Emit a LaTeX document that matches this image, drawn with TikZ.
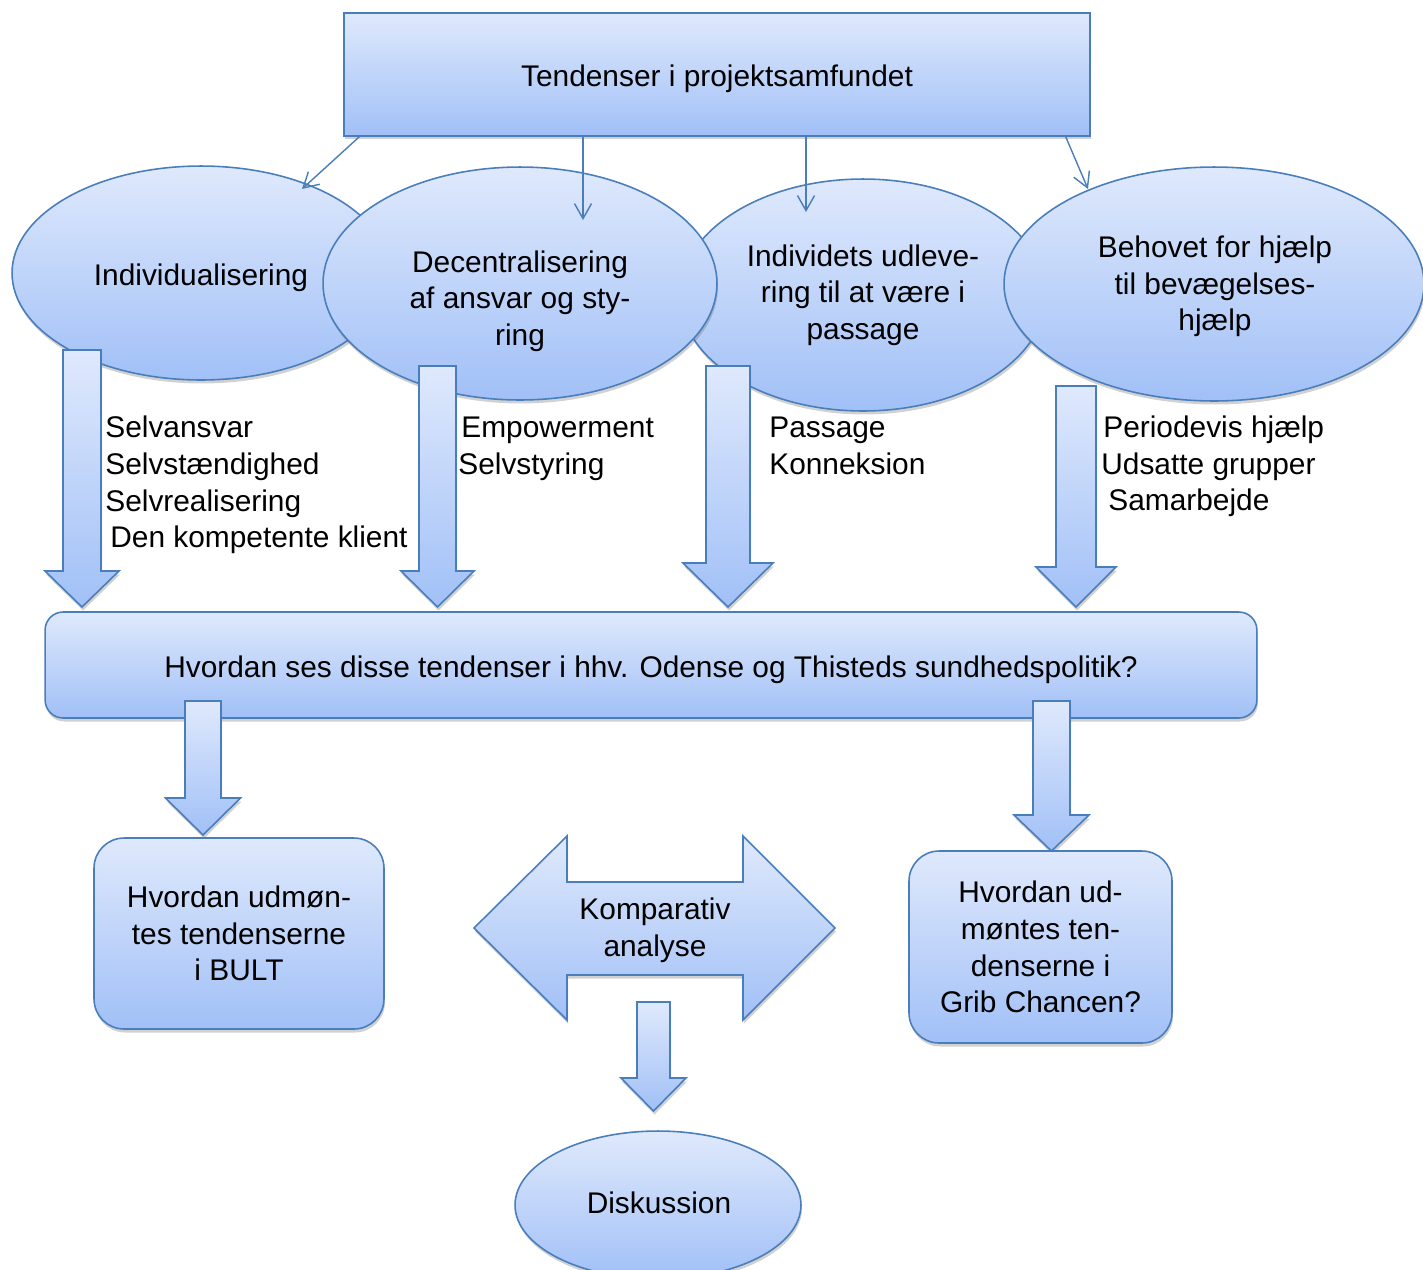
\documentclass[tikz,border=0pt]{standalone}
\usepackage{fontspec}
\setmainfont{Liberation Sans}
\usepackage{xcolor}
\usetikzlibrary{positioning, arrows.meta, shapes.geometric, shadows}
\definecolor{shadetop}{HTML}{DFE9FC}
\definecolor{shadebot}{HTML}{A1C0F7}
\definecolor{edge}{HTML}{4A7EBB}

% block arrow pointing down: centre x, top y, half shaft, half head, neck y, tip y
\newcommand{\bigdown}[6]{%
  \draw[blk] (#1-#3,#2) -- (#1+#3,#2) -- (#1+#3,#5) -- (#1+#4,#5)
    -- (#1,#6) -- (#1-#4,#5) -- (#1-#3,#5) -- cycle;}
% single text line set a little lower in its box
\newcommand{\dropline}[1]{\raisebox{-0.09cm}[\height][\depth]{#1}}

\begin{document}
\begin{tikzpicture}[
  x=0.02cm, y=-0.02cm,
  font=\fontsize{17pt}{20.9pt}\selectfont,
  fillgrad/.style={top color=shadetop, bottom color=shadebot, draw=edge, line width=0.9pt,
                   drop shadow={shadow xshift=0.02cm, shadow yshift=-0.07cm, fill=black!60, opacity=0.3}},
  headbox/.style={fillgrad, rectangle, align=center},
  oval/.style={fillgrad, ellipse, align=center, inner sep=0pt},
  rbox/.style={fillgrad, rectangle, rounded corners=0.6cm, align=center, inner sep=0pt},
  blk/.style={fillgrad, line join=miter},
  thinarr/.style={draw=edge, line width=0.8pt, -{Straight Barb[length=3mm, width=3.4mm]}},
  lbl/.style={anchor=west, align=left, inner sep=0pt},
]
\useasboundingbox (0,0) rectangle (1423,1269);

% ---------------- top box ----------------
\node[headbox, minimum width=14.92cm, minimum height=2.46cm] (trends) at (717,74.5)
  {\dropline{Tendenser i projektsamfundet}};

% ---------------- four tendencies ----------------
\node[oval, minimum width=7.56cm, minimum height=4.28cm] (indiv) at (201,273) {\dropline{Individualisering}};
\node[oval, minimum width=7.32cm, minimum height=4.64cm] (passage) at (863,295)
  {Individets udleve-\\ring til at være i\\passage};
\node[oval, minimum width=7.88cm, minimum height=4.66cm] (decent) at (520,283.5) {};
\node[align=center, inner sep=0pt] (decent-txt) at (520,301)
  {Decentralisering\\af ansvar og sty-\\ring};
\node[oval, minimum width=8.4cm, minimum height=4.68cm] (help) at (1214,284) {};
\node[align=center, inner sep=0pt] (help-txt) at (1215,286.5)
  {Behovet for hjælp\\til bevægelses-\\hjælp};

% thin arrows from the top box
\coordinate (t1) at (302,189);
\coordinate (t2) at (583,220);
\coordinate (t3) at (806,212);
\coordinate (t4) at (1088,189);
\draw[thinarr] ([xshift=0.32cm]trends.south west) -- (t1);
\draw[thinarr] (trends.south -| t2) -- (t2);
\draw[thinarr] (trends.south -| t3) -- (t3);
\draw[thinarr] ([xshift=-0.5cm]trends.south east) -- (t4);

% ---------------- block arrows down ----------------
\bigdown{82}{350}{19}{37}{571}{607}
\bigdown{437.5}{366}{18.5}{36.5}{571}{607}
\bigdown{728}{366}{22}{45}{563}{607}
\bigdown{1076}{386}{20}{40}{567}{607}

% keywords
\node[lbl] (kw1) at (105,485) {Selvansvar\\Selvstændighed\\Selvrealisering\\\hspace{0.1cm}Den kompetente klient};
\node[lbl] (kw2) at (458,448.5) {\hspace{0.06cm}Empowerment\\Selvstyring};
\node[lbl] (kw3) at (769,445.5) {Passage\\Konneksion};
\node[lbl] (kw4) at (1101,466.5) {\hspace{0.04cm}Periodevis hjælp\\Udsatte grupper\\\hspace{0.14cm}Samarbejde};

% ---------------- research question ----------------
\node[rbox, rounded corners=0.36cm, minimum width=24.24cm, minimum height=2.12cm] (question) at (651,665)
  {\dropline{Hvordan ses disse tendenser i hhv. Odense og Thisteds sundhedspolitik?}};

\bigdown{203}{701}{18}{37.5}{798}{835}
\bigdown{1051.5}{701}{18.5}{37.5}{815}{851}

% ---------------- the two cases ----------------
\node[rbox, minimum width=5.8cm, minimum height=3.82cm] (bult) at (239,933.5)
  {Hvordan udmøn-\\tes tendenserne\\i BULT};
\node[rbox, minimum width=5.26cm, minimum height=3.84cm] (grib) at (1040.5,947)
  {Hvordan ud-\\møntes ten-\\denserne i\\Grib Chancen?};

% comparative analysis (double arrow)
\draw[blk] (474,928) -- (567,836) -- (567,882) -- (743,882) -- (743,836) -- (835,928)
  -- (743,1020) -- (743,975) -- (567,975) -- (567,1020) -- cycle;
\node[align=center, inner sep=0pt] (komp) at (655,930) {Komparativ\\analyse};

\bigdown{653.5}{1002}{16.5}{32.5}{1078}{1111}

\node[oval, minimum width=5.72cm, minimum height=2.96cm] (disk) at (658,1205) {};
\node[inner sep=0pt] (disk-txt) at (659,1203) {Diskussion};

\end{tikzpicture}
\end{document}
